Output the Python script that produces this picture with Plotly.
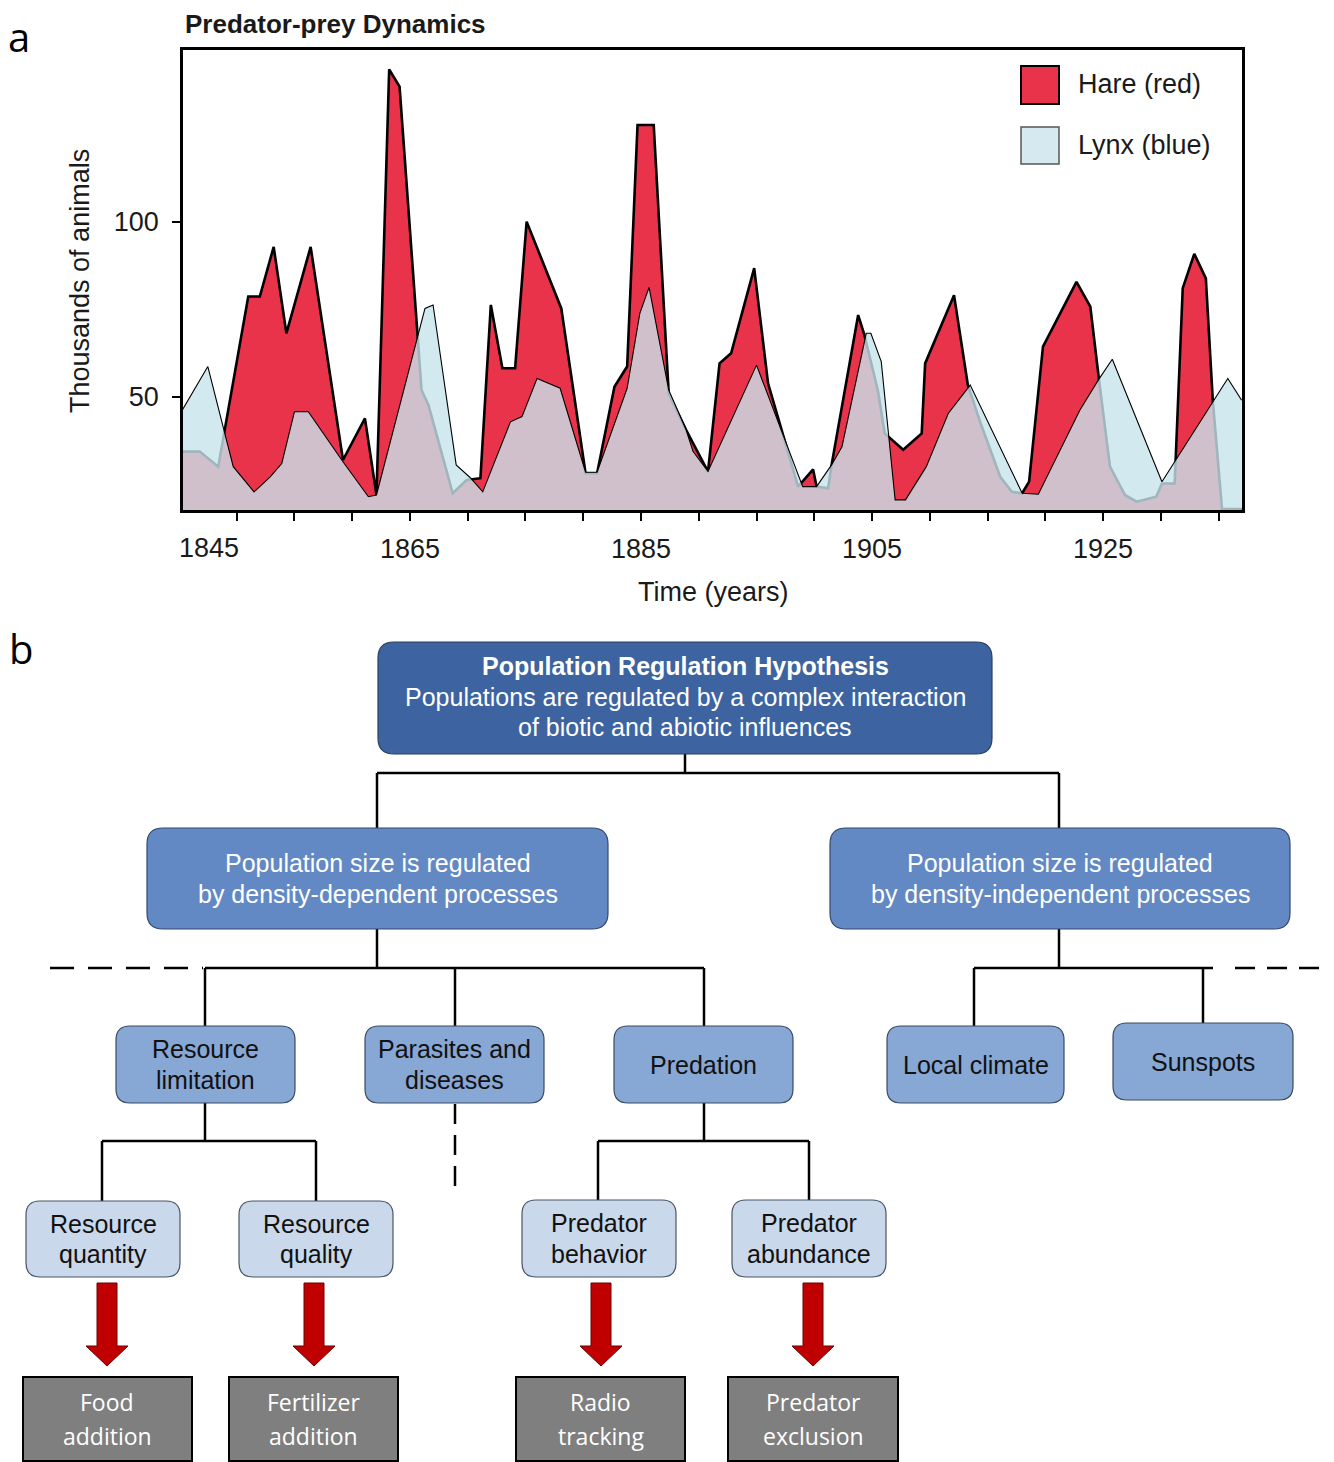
import plotly.graph_objects as go

# ---------------- Panel a data ----------------
hare_year = [1845.3, 1846.8, 1848.4, 1851.0, 1852.0, 1853.2, 1854.3, 1856.4, 1859.2, 1861.1,
             1862.1, 1863.2, 1864.1, 1866.0, 1866.6, 1868.7, 1869.9, 1871.1, 1872.0, 1873.0,
             1874.1, 1875.1, 1878.1, 1880.2, 1881.2, 1882.7, 1883.8, 1884.7, 1886.1, 1887.4,
             1888.9, 1890.8, 1891.8, 1892.8, 1894.8, 1896.0, 1898.6, 1899.9, 1900.2, 1901.2,
             1901.5, 1903.8, 1904.3, 1905.5, 1906.1, 1907.7, 1909.3, 1909.6, 1912.1, 1913.3,
             1914.4, 1916.1, 1917.1, 1918.0, 1918.6, 1919.8, 1922.7, 1923.9, 1924.6, 1925.6,
             1926.9, 1927.9, 1929.6, 1930.1, 1931.2, 1931.9, 1932.9, 1933.9, 1934.5, 1935.3,
             1937.0]
hare_thousands = [34.4, 34.4, 30.1, 78.7, 78.7, 92.9, 68.2, 92.9, 32.0, 43.9,
                  22.0, 143.6, 138.7, 52.0, 47.7, 22.5, 26.3, 26.8, 76.3, 58.2,
                  58.2, 100.1, 75.3, 28.2, 28.2, 52.9, 58.7, 127.7, 127.7, 51.0,
                  40.6, 28.7, 59.6, 62.5, 86.8, 53.9, 24.4, 29.3, 24.4, 23.9,
                  30.6, 73.4, 68.2, 52.0, 39.6, 34.9, 39.6, 59.6, 79.1, 53.4,
                  42.5, 27.2, 22.9, 22.5, 25.8, 64.4, 82.9, 75.8, 56.3, 30.1,
                  22.0, 20.1, 21.5, 25.3, 25.3, 81.1, 90.9, 83.9, 49.1, 18.0,
                  18.0]

lynx_year = [1845.3, 1847.5, 1849.7, 1851.5, 1852.9, 1853.9, 1855.0, 1856.2, 1859.2, 1861.4,
             1862.1, 1866.3, 1867.0, 1869.0, 1870.2, 1871.3, 1873.7, 1874.7, 1876.0, 1878.0,
             1880.2, 1881.2, 1883.8, 1884.9, 1885.7, 1887.4, 1888.9, 1889.5, 1890.8, 1895.0,
             1899.0, 1900.2, 1901.5, 1902.4, 1904.5, 1904.9, 1905.8, 1907.0, 1907.9, 1909.7,
             1911.6, 1913.5, 1918.0, 1919.4, 1923.0, 1924.6, 1925.8, 1930.1, 1935.8, 1937.0]
lynx_thousands = [46.3, 58.7, 30.1, 22.9, 27.2, 31.0, 45.8, 45.8, 31.5, 21.5,
                  22.0, 75.3, 76.3, 30.6, 27.0, 22.9, 42.9, 44.4, 55.3, 52.5,
                  28.5, 28.5, 52.5, 73.9, 81.3, 52.0, 40.6, 34.5, 28.7, 59.1,
                  24.4, 24.4, 30.6, 35.8, 68.2, 68.2, 60.1, 20.6, 20.6, 30.1,
                  45.3, 53.4, 22.5, 22.2, 46.3, 54.9, 60.8, 25.8, 55.3, 49.1]

x_tick_years = [1850, 1855, 1860, 1865, 1870, 1875, 1880, 1885, 1890, 1895,
                1900, 1905, 1910, 1915, 1920, 1925, 1930, 1935]
x_labelled_years = [1865, 1885, 1905, 1925]
first_year_label = "1845"
y_tick_values = [50, 100]

series_names = ["Hare (red)", "Lynx (blue)"]
chart_title = "Predator-prey Dynamics"
x_title = "Time (years)"
y_title = "Thousands of animals"

# ---------------- Panel b text ----------------
top_title = "Population Regulation Hypothesis"
top_lines = ["Populations are regulated by a complex interaction",
             "of biotic and abiotic influences"]
level2_texts = [["Population size is regulated", "by density-dependent processes"],
                ["Population size is regulated", "by density-independent processes"]]
level3_texts = [["Resource", "limitation"], ["Parasites and", "diseases"], ["Predation"],
                ["Local climate"], ["Sunspots"]]
level4_texts = [["Resource", "quantity"], ["Resource", "quality"],
                ["Predator", "behavior"], ["Predator", "abundance"]]
method_texts = [["Food", "addition"], ["Fertilizer", "addition"],
                ["Radio", "tracking"], ["Predator", "exclusion"]]

# ---------------- figure geometry (pixels of the page) ----------------
W, H = 1334, 1462
OFF = 8          # the page's body margin shifts the figure by this much
PL, PR, PT, PB = 183, 1242, 50, 510


def X(px):
    return (px - OFF) / W


def Y(py):
    return 1 - (py - OFF) / H


RED = "#e8334a"
LYNX_FILL = "rgba(200,228,236,0.80)"
CFONT = "Liberation Sans, Arial, sans-serif"

fig = go.Figure()
fig.add_trace(go.Scatter(x=hare_year, y=hare_thousands, mode="lines", name=series_names[0],
                         fill="tozeroy", fillcolor=RED,
                         line=dict(color="black", width=2.6), showlegend=False))
fig.add_trace(go.Scatter(x=lynx_year, y=lynx_thousands, mode="lines", name=series_names[1],
                         fill="tozeroy", fillcolor=LYNX_FILL,
                         line=dict(color="black", width=1.1), showlegend=False))

shapes = []
annotations = []


def line(x0, y0, x1, y1, width=2.5, dash=None):
    d = dict(type="line", xref="paper", yref="paper", x0=X(x0), y0=Y(y0), x1=X(x1), y1=Y(y1),
             line=dict(color="black", width=width))
    if dash:
        d["line"]["dash"] = dash
    shapes.append(d)


def rrect(x0, y0, x1, y1, r, fill, border="#333333", bw=1.2):
    p = (f"M {X(x0 + r)},{Y(y0)} L {X(x1 - r)},{Y(y0)} Q {X(x1)},{Y(y0)} {X(x1)},{Y(y0 + r)} "
         f"L {X(x1)},{Y(y1 - r)} Q {X(x1)},{Y(y1)} {X(x1 - r)},{Y(y1)} "
         f"L {X(x0 + r)},{Y(y1)} Q {X(x0)},{Y(y1)} {X(x0)},{Y(y1 - r)} "
         f"L {X(x0)},{Y(y0 + r)} Q {X(x0)},{Y(y0)} {X(x0 + r)},{Y(y0)} Z")
    shapes.append(dict(type="path", xref="paper", yref="paper", path=p, fillcolor=fill,
                       line=dict(color=border, width=bw)))


def rect(x0, y0, x1, y1, fill, border, bw):
    shapes.append(dict(type="rect", xref="paper", yref="paper", x0=X(x0), y0=Y(y0), x1=X(x1),
                       y1=Y(y1), fillcolor=fill, line=dict(color=border, width=bw)))


def text(px, py, s, size, color, family=CFONT, bold=False, xanchor="center", angle=0, pad=1):
    annotations.append(dict(xref="paper", yref="paper", x=X(px), y=Y(py),
                            text=f"<b>{s}</b>" if bold else s, showarrow=False,
                            xanchor=xanchor, yanchor="middle", textangle=angle, borderpad=pad,
                            font=dict(family=family, size=size, color=color)))


def lines_in_box(box, lines_, size, color, spacing, family=CFONT):
    cx = (box[0] + box[2]) / 2
    cy = (box[1] + box[3]) / 2
    n = len(lines_)
    for i, s in enumerate(lines_):
        text(cx, cy + (i - (n - 1) / 2) * spacing, s, size, color, family)


# ---- panel a decorations ----
text(184, 24, chart_title, 26, "#1a1a1a", bold=True, xanchor="left", pad=0)
text(19, 36, "a", 40, "black", family="Open Sans, sans-serif", pad=0)
text(80, 281, y_title, 27, "#1a1a1a", angle=-90)
text(713, 592, x_title, 27, "#1a1a1a")
text(209, 548, first_year_label, 27, "#1a1a1a")

# legend
rect(1021, 66, 1059, 104, RED, "black", 2)
rect(1021, 127, 1059, 164, "rgb(214,232,240)", "#555555", 1.5)
text(1076, 84, series_names[0], 27, "#1a1a1a", xanchor="left")
text(1076, 145, series_names[1], 27, "#1a1a1a", xanchor="left")

# ---- panel b ----
text(21, 648, "b", 40, "black", family="Open Sans, sans-serif")

# connectors
line(685, 754, 685, 773)
line(377, 773, 1059, 773)
line(377, 773, 377, 828)
line(1059, 773, 1059, 828)
line(377, 929, 377, 968)
line(205, 968, 704, 968)
line(205, 968, 205, 1026)
line(455, 968, 455, 1026)
line(704, 968, 704, 1026)
line(50, 968, 203, 968, dash="24px,14px")
line(1059, 929, 1059, 968)
line(974, 968, 1213, 968)
line(974, 968, 974, 1026)
line(1203, 968, 1203, 1023)
line(1235, 968, 1322, 968, dash="20px,12px")
line(205, 1103, 205, 1141)
line(102, 1141, 316, 1141)
line(102, 1141, 102, 1201)
line(316, 1141, 316, 1201)
line(455, 1104, 455, 1188, dash="20px,11px")
line(704, 1103, 704, 1141)
line(598, 1141, 809, 1141)
line(598, 1141, 598, 1200)
line(809, 1141, 809, 1200)

top_box = (378, 642, 992, 754)
level2_boxes = [(147, 828, 608, 929), (830, 828, 1290, 929)]
level3_boxes = [(116, 1026, 295, 1103), (365, 1026, 544, 1103), (614, 1026, 793, 1103),
                (887, 1026, 1064, 1103), (1113, 1023, 1293, 1100)]
level4_boxes = [(26, 1201, 180, 1277), (239, 1201, 393, 1277), (522, 1200, 676, 1277),
                (732, 1200, 886, 1277)]
method_boxes = [(23, 1377, 192, 1461), (229, 1377, 398, 1461), (516, 1377, 685, 1461),
                (728, 1377, 898, 1461)]
arrow_centers = [107, 314, 601, 813]

rrect(*top_box, 16, "#3d64a0", border="#2b3f5e")
text(685, 666, top_title, 25, "white", bold=True)
text(685, 697, top_lines[0], 25, "white")
text(685, 727, top_lines[1], 25, "white")

for b, t in zip(level2_boxes, level2_texts):
    rrect(*b, 16, "#6289c4", border="#34496b")
    lines_in_box(b, t, 25, "white", 30.5)
for b, t in zip(level3_boxes, level3_texts):
    rrect(*b, 14, "#87a7d4", border="#3a4a62")
    lines_in_box(b, t, 25, "#111111", 30.5)
for b, t in zip(level4_boxes, level4_texts):
    rrect(*b, 14, "#c9d8ea", border="#4a5566")
    lines_in_box(b, t, 25, "#111111", 30.5)

for c in arrow_centers:
    p = (f"M {X(c - 10)},{Y(1283)} L {X(c + 10)},{Y(1283)} L {X(c + 10)},{Y(1346)} "
         f"L {X(c + 21)},{Y(1346)} L {X(c)},{Y(1366)} L {X(c - 21)},{Y(1346)} "
         f"L {X(c - 10)},{Y(1346)} Z")
    shapes.append(dict(type="path", xref="paper", yref="paper", path=p, fillcolor="#c00000",
                       line=dict(color="#6b0000", width=1)))

for b, t in zip(method_boxes, method_texts):
    rect(*b, "#7f7f7f", "black", 2)
    lines_in_box(b, t, 23, "white", 34, family="Open Sans, sans-serif")

fig.update_layout(
    width=W, height=H,
    margin=dict(l=0, r=0, t=0, b=0),
    paper_bgcolor="white", plot_bgcolor="white",
    showlegend=False,
    shapes=shapes, annotations=annotations,
    xaxis=dict(domain=[X(PL), X(PR)], range=[1845.35, 1937.03], showgrid=False, zeroline=False,
               showline=True, linecolor="black", linewidth=2.5, mirror=True,
               ticks="outside", ticklen=8, tickwidth=2, tickcolor="black",
               tickvals=x_tick_years,
               ticktext=[str(v) if v in x_labelled_years else "" for v in x_tick_years],
               tickfont=dict(family=CFONT, size=27, color="#1a1a1a"),
               ticklabelstandoff=5, automargin=False),
    yaxis=dict(domain=[Y(PB), Y(PT)], range=[17.71, 149.14], showgrid=False, zeroline=False,
               showline=True, linecolor="black", linewidth=2.5, mirror=True,
               ticks="outside", ticklen=8, tickwidth=2, tickcolor="black",
               tickvals=y_tick_values,
               tickfont=dict(family=CFONT, size=27, color="#1a1a1a"),
               ticklabelstandoff=8, automargin=False),
)

fig.write_html("out.html")
